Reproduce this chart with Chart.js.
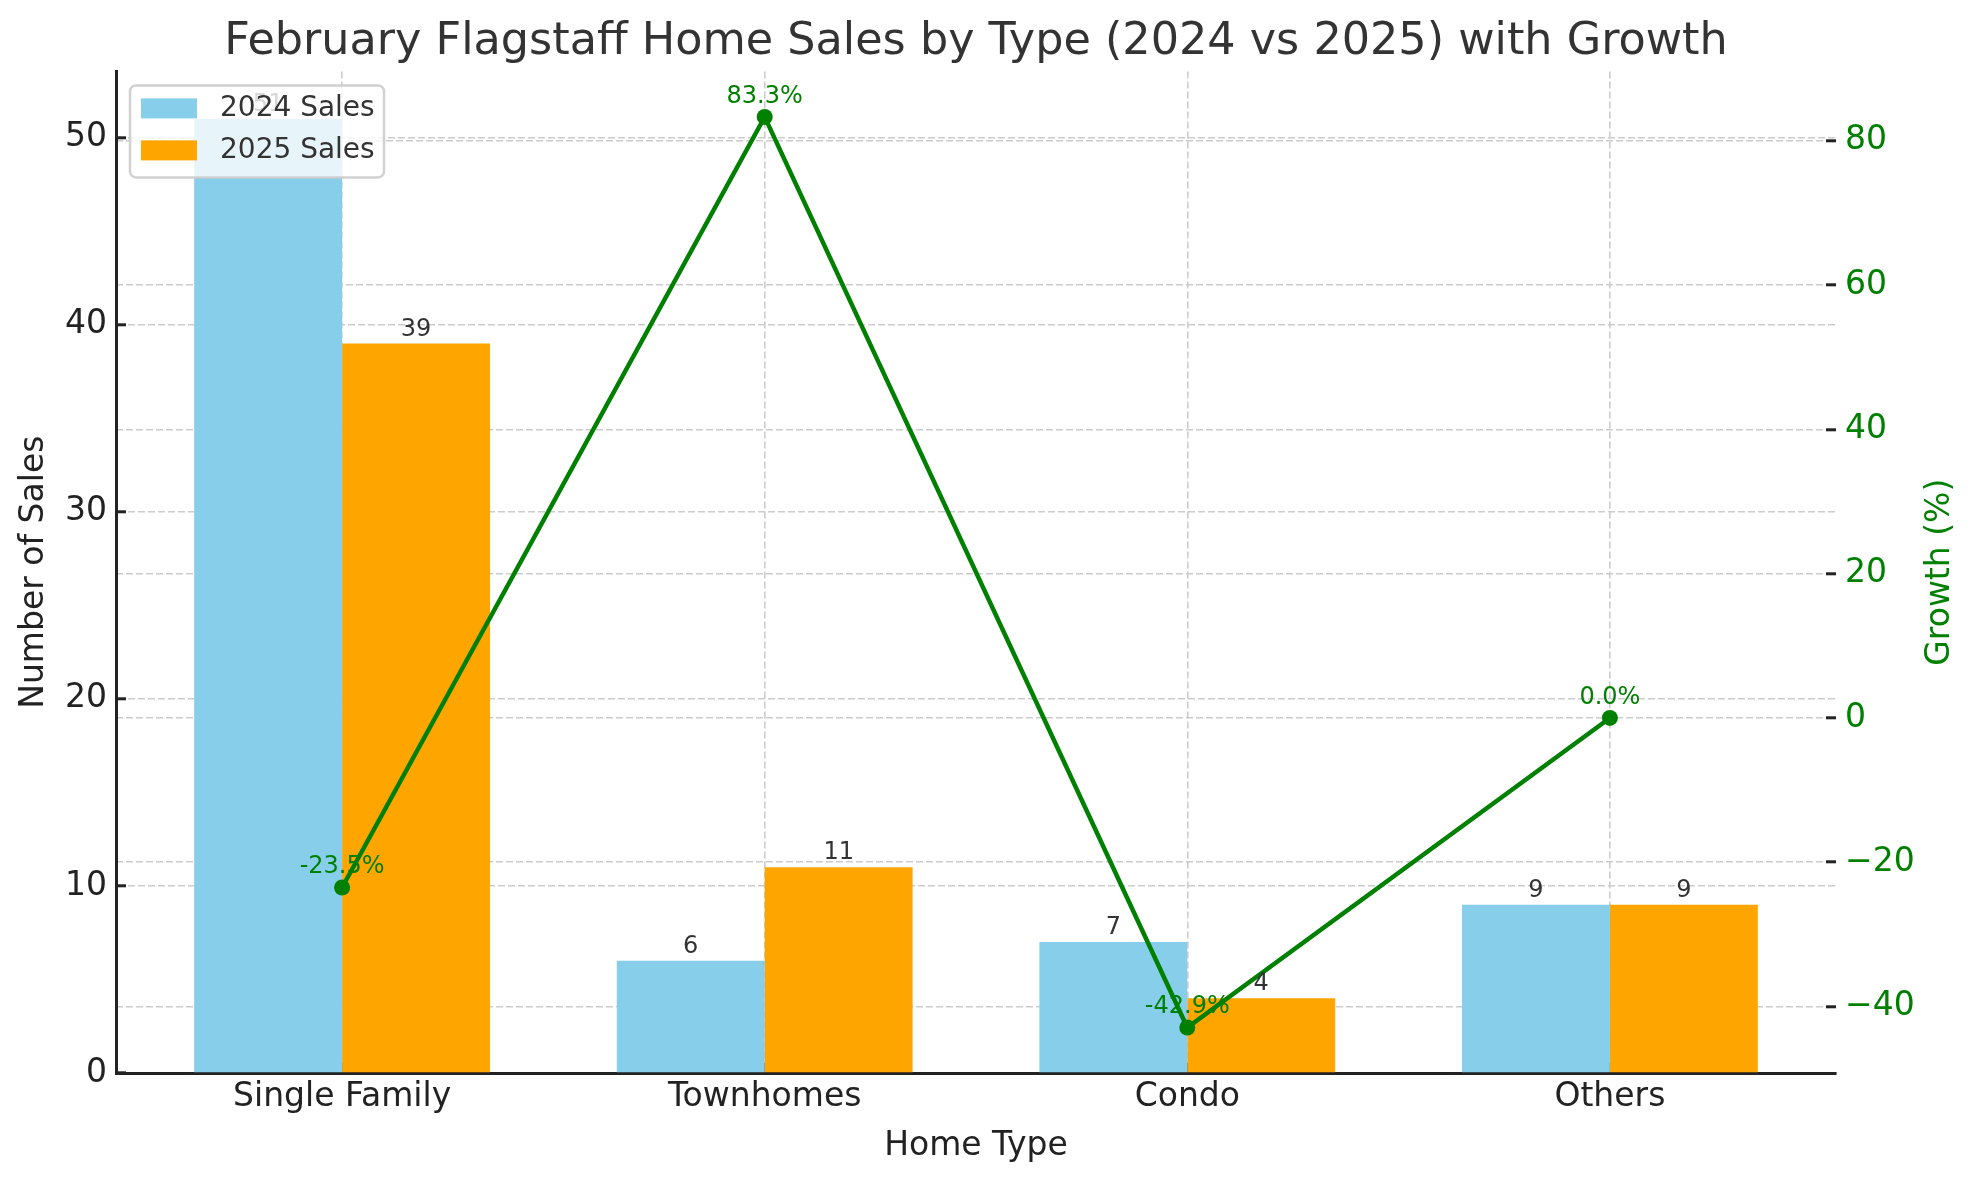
<!DOCTYPE html>
<html>
<head>
<meta charset="utf-8">
<title>February Flagstaff Home Sales</title>
<script src="https://cdn.jsdelivr.net/npm/chart.js@4.4.1/dist/chart.umd.min.js"></script>
<style>
  html, body { margin: 0; padding: 0; background: #fff; }
  #wrap { width: 1980px; height: 1180px; }
</style>
</head>
<body>
<div id="wrap"><canvas id="chart" width="1980" height="1180"></canvas></div>
<script>
/* February Flagstaff home sales by type, 2024 vs 2025, with growth line */

const homeTypes = ['Single Family', 'Townhomes', 'Condo', 'Others'];
const sales2024 = [51, 6, 7, 9];
const sales2025 = [39, 11, 4, 9];
const growthPct = [-23.5, 83.3, -42.9, 0.0];
const salesTicks = [0, 10, 20, 30, 40, 50];
const growthTicks = [-40, -20, 0, 20, 40, 60, 80];

const FONT = "'DejaVu Sans', 'Noto Sans', sans-serif";
const INK = '#222222';
const GREEN = '#008000';

// matplotlib style 5% margins
const salesMax = Math.max(...sales2024, ...sales2025) * 1.05;
const gMin = Math.min(...growthPct), gMax = Math.max(...growthPct);
const gPad = (gMax - gMin) * 0.05;

const gridOpts = { color: '#cccccc', lineWidth: 1.6, tickLength: -10, tickColor: INK, tickWidth: 3 };

const overlay = {
    id: 'overlay',
    afterDraw(chart) {
        const ctx = chart.ctx;
        const area = chart.chartArea;
        ctx.save();

        // value labels above the bars
        ctx.font = `24px ${FONT}`;
        ctx.fillStyle = '#333333';
        ctx.textAlign = 'center';
        ctx.textBaseline = 'alphabetic';
        [1, 2].forEach(di => {
            const ds = chart.data.datasets[di];
            chart.getDatasetMeta(di).data.forEach((bar, i) => {
                ctx.fillText(String(ds.data[i].y), bar.x, bar.y - 8);
            });
        });

        // growth labels above the points
        ctx.fillStyle = GREEN;
        chart.getDatasetMeta(0).data.forEach((pt, i) => {
            ctx.fillText(growthPct[i].toFixed(1) + '%', pt.x, pt.y - 14);
        });

        // right axis title, reading bottom to top
        const y2 = chart.scales.y2;
        ctx.save();
        ctx.translate(y2.right - 12, (area.top + area.bottom) / 2);
        ctx.rotate(-Math.PI / 2);
        ctx.font = `33px ${FONT}`;
        ctx.textBaseline = 'middle';
        ctx.fillText('Growth (%)', 0, 0);
        ctx.restore();

        // legend box, upper left inside the plot
        const lx = area.left + 14, ly = area.top + 14, lw = 254, lh = 92;
        ctx.beginPath();
        ctx.roundRect(lx, ly, lw, lh, 6);
        ctx.fillStyle = 'rgba(255,255,255,0.8)';
        ctx.fill();
        ctx.lineWidth = 2.5;
        ctx.strokeStyle = 'rgba(204,204,204,0.9)';
        ctx.stroke();
        ctx.font = `28px ${FONT}`;
        ctx.textAlign = 'left';
        ctx.textBaseline = 'middle';
        [1, 2].forEach((di, k) => {
            const ds = chart.data.datasets[di];
            const cy = ly + 23 + k * 42;
            ctx.fillStyle = ds.backgroundColor;
            ctx.fillRect(lx + 11, cy - 10, 56, 20);
            ctx.fillStyle = '#333333';
            ctx.fillText(ds.label, lx + 90, cy);
        });

        ctx.restore();
    }
};

new Chart(document.getElementById('chart'), {
    type: 'bar',
    data: {
        datasets: [
            {
                type: 'line',
                label: 'Growth (%)',
                data: growthPct.map((g, i) => ({ x: i, y: g })),
                yAxisID: 'y2',
                borderColor: GREEN,
                backgroundColor: GREEN,
                borderWidth: 4.5,
                pointRadius: 8,
                pointBorderWidth: 0,
                pointBackgroundColor: GREEN,
                tension: 0,
                order: 0
            },
            {
                label: '2024 Sales',
                data: sales2024.map((v, i) => ({ x: i, y: v })),
                backgroundColor: '#87CEEB',
                yAxisID: 'y',
                order: 1
            },
            {
                label: '2025 Sales',
                data: sales2025.map((v, i) => ({ x: i, y: v })),
                backgroundColor: '#FFA500',
                yAxisID: 'y',
                order: 1
            }
        ]
    },
    options: {
        responsive: false,
        animation: false,
        devicePixelRatio: 1,
        categoryPercentage: 0.7,
        barPercentage: 1.0,
        layout: { padding: { left: 0, right: 28, top: 0, bottom: 0 } },
        plugins: {
            legend: { display: false },
            tooltip: { enabled: false },
            title: {
                display: true,
                text: 'February Flagstaff Home Sales by Type (2024 vs 2025) with Growth',
                color: '#333333',
                font: { family: FONT, size: 44.5, weight: 'normal' },
                padding: { top: 16, bottom: 2 }
            }
        },
        scales: {
            x: {
                type: 'linear',
                position: 'bottom',
                min: -0.535,
                max: homeTypes.length - 1 + 0.535,
                offset: false,
                z: 1,
                afterBuildTicks: s => { s.ticks = homeTypes.map((_, i) => ({ value: i })); },
                afterFit: s => { s.height = 107; },
                ticks: {
                    callback: v => homeTypes[v],
                    color: INK,
                    padding: 15,
                    maxRotation: 0,
                    font: { family: FONT, size: 33 }
                },
                grid: { ...gridOpts, offset: false },
                border: { display: true, color: INK, width: 3, dash: [7, 3] },
                title: {
                    display: true,
                    text: 'Home Type',
                    color: INK,
                    font: { family: FONT, size: 33 },
                    padding: { top: 0, bottom: 14 }
                }
            },
            y: {
                type: 'linear',
                position: 'left',
                min: 0,
                max: salesMax,
                afterBuildTicks: s => { s.ticks = salesTicks.map(v => ({ value: v })); },
                afterFit: s => { s.width = 116; },
                ticks: { color: INK, padding: 19, font: { family: FONT, size: 33 } },
                grid: { ...gridOpts },
                border: { display: true, color: INK, width: 3, dash: [7, 3] },
                title: {
                    display: true,
                    text: 'Number of Sales',
                    color: INK,
                    font: { family: FONT, size: 33 },
                    padding: { top: 15, bottom: 0 }
                }
            },
            y2: {
                type: 'linear',
                position: 'right',
                min: gMin - gPad,
                max: gMax + gPad,
                z: 1,
                afterBuildTicks: s => { s.ticks = growthTicks.map(v => ({ value: v })); },
                afterFit: s => { s.width = 116; },
                ticks: {
                    color: GREEN,
                    padding: 19,
                    font: { family: FONT, size: 33 },
                    callback: v => String(v).replace('-', '\u2212')
                },
                grid: { ...gridOpts },
                border: { display: false, dash: [7, 3] },
                title: { display: false }
            }
        }
    },
    plugins: [overlay]
});
</script>
</body>
</html>
